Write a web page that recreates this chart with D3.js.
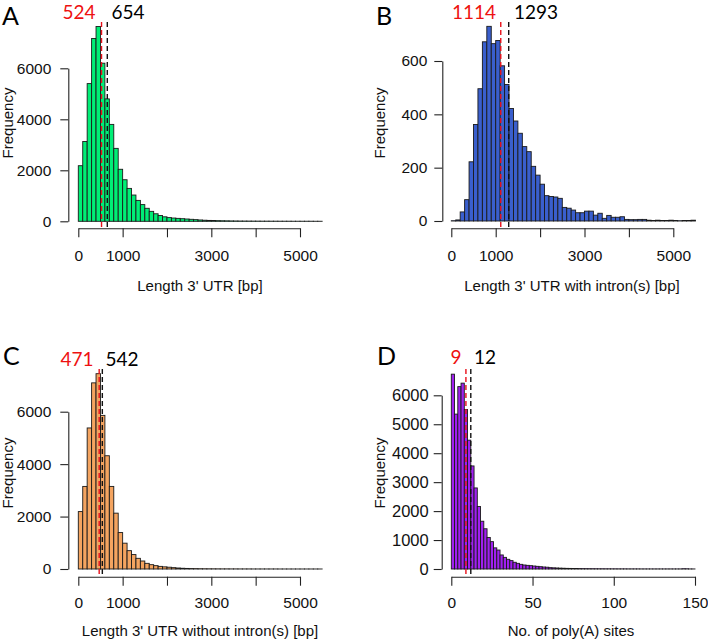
<!DOCTYPE html>
<html lang="en">
<head>
<meta charset="UTF-8">
<title>3' UTR length histograms</title>
<script src="https://d3js.org/d3.v7.min.js"></script>
<style>
  body { margin: 0; background: #fff; }
  svg { display: block; }
  .tick text { font-family: "Liberation Sans", Arial, sans-serif; font-size: 15.5px; fill: #111; }
  .tick line, .domain { stroke: #222; stroke-width: 1.1; }
  .title { font-family: "Liberation Sans", Arial, sans-serif; font-size: 15px; fill: #111; }
  .stat, .letter { font-family: Lato, "Open Sans", sans-serif; }
</style>
</head>
<body>
<script>
    // histogram counts (bins of 100 bp for A-C, 2 sites for D)
    const countsAll = [2180, 3130, 5400, 7170, 7640, 6200, 4800, 3800, 2860, 2040,
        1630, 1290, 1030, 820, 655, 510, 390, 295, 228, 176,
        145, 128, 115, 102, 90, 78, 65, 52, 42, 35,
        30, 25, 21, 18, 15, 13, 11, 10, 9, 8,
        7, 6, 6, 5, 5, 4, 4, 4, 3, 3,
        3, 3, 3, 2, 2]
    const countsWithIntron = [1, 4, 34, 80, 222, 362, 496, 672, 730, 665,
        677, 582, 512, 422, 375, 329, 279, 260, 205, 172,
        138, 95, 92, 90, 85, 51, 48, 41, 31, 31,
        37, 37, 22, 29, 10, 21, 14, 14, 16, 6,
        5, 5, 6, 6, 3, 2, 3, 2, 2, 3,
        2, 1, 2, 2, 3]
    const countsNoIntron = [2190, 3150, 5380, 7100, 7450, 5860, 4320, 3150, 2130, 1390,
        985, 700, 550, 407, 305, 216, 165, 128, 100, 82,
        68, 51, 38, 28, 22, 17, 14, 11, 9, 8,
        7, 6, 5, 5, 4, 4, 3, 3, 3, 2,
        2, 2, 2, 2, 2, 1, 1, 1, 1, 1,
        1, 1, 1, 1, 1]
    const countsPolyA = [6730, 5350, 6300, 6420, 5510, 4450, 3560, 2800, 2160, 1650,
        1390, 1090, 945, 730, 655, 485, 402, 335, 290, 232,
        195, 161, 138, 126, 115, 103, 92, 80, 69, 62,
        46, 40, 35, 30, 26, 22, 20, 18, 16, 15,
        13, 12, 11, 10, 9, 8, 8, 7, 7, 6,
        6, 5, 5, 5, 4, 4, 4, 4, 3, 3,
        3, 3, 3, 3, 3, 3, 3, 3, 3, 3,
        3, 10, 8, 3, 2]

    const binWidths = [100, 100, 100, 2]
    const medians = [524, 1114, 471, 9]
    const means = [654, 1293, 542, 12]
    const letters = ["A", "B", "C", "D"]
    const fills = ["#00EE76", "#3A5FCD", "#F4A460", "#A020F0"]
    const xTitles = ["Length 3' UTR [bp]", "Length 3' UTR with intron(s) [bp]",
        "Length 3' UTR without intron(s) [bp]", "No. of poly(A) sites"]
    const lengthTicks = [0, 1000, 2000, 3000, 4000, 5000]
    const lengthLabels = [0, 1000, 3000, 5000]
    const siteTicks = [0, 50, 100, 150]
    const yTicksA = [0, 2000, 4000, 6000]
    const yTicksB = [0, 200, 400, 600]
    const yTicksD = [0, 1000, 2000, 3000, 4000, 5000, 6000]

    const svg = d3.select("body").append("svg")
        .attr("width", 708)
        .attr("height", 643)

    // pixel frame of each panel: x0/x1 = first/last x tick, y0/y1 = first/last y tick
    const frames = [
        {x0: 78.3, x1: 300, y0: 221.3, y1: 68.3, yAxisX: 68.3, xAxisY: 228.3, xPad: 13, yPad: 9, lineTop: 22, statY: 19, letterX: 2, letterY: 25, labelX: [79, 128], titleX: 200, titleY: 291, yTitleX: 12.5, yTitleY: 123},
        {x0: 451.3, x1: 673.3, y0: 221, y1: 61, yAxisX: 442.3, xAxisY: 228.3, xPad: 13, yPad: 7, lineTop: 22, statY: 19, letterX: 376, letterY: 25, labelX: [474, 536], titleX: 572, titleY: 291, yTitleX: 384.5, yTitleY: 123},
        {x0: 78.3, x1: 300, y0: 569, y1: 411.7, yAxisX: 68.3, xAxisY: 576.7, xPad: 11, yPad: 9, lineTop: 369, statY: 366, letterX: 3, letterY: 365, labelX: [77, 122], titleX: 200, titleY: 636, yTitleX: 12.5, yTitleY: 473},
        {x0: 451.3, x1: 695, y0: 569, y1: 395.3, yAxisX: 441.7, xAxisY: 576.7, xPad: 11, yPad: 5, lineTop: 369, statY: 364, letterX: 377, letterY: 365, labelX: [456, 485], titleX: 571, titleY: 636, yTitleX: 384.5, yTitleY: 473}
    ]

    const allCounts = [countsAll, countsWithIntron, countsNoIntron, countsPolyA]
    const xTickSets = [lengthTicks, lengthTicks, lengthTicks, siteTicks]
    const xLabelSets = [lengthLabels, lengthLabels, lengthLabels, siteTicks]
    const yTickSets = [yTicksA, yTicksB, yTicksA, yTicksD]

    allCounts.forEach((counts, i) => drawPanel(i, counts))

    function drawPanel(i, counts) {
        const f = frames[i]
        const xt = xTickSets[i]
        const yt = yTickSets[i]
        const bw = binWidths[i]

        const x = d3.scaleLinear()
            .domain([xt[0], xt[xt.length - 1]])
            .range([f.x0, f.x1])
        const y = d3.scaleLinear()
            .domain([yt[0], yt[yt.length - 1]])
            .range([f.y0, f.y1])

        const g = svg.append("g")

        // bars
        g.selectAll("rect")
            .data(counts)
            .enter()
            .append("rect")
            .attr("x", (d, k) => x(k * bw))
            .attr("y", d => y(d))
            .attr("width", (d, k) => x((k + 1) * bw) - x(k * bw))
            .attr("height", d => y(0) - y(d))
            .attr("fill", fills[i])
            .attr("stroke", "#1a1a1a")
            .attr("stroke-width", 0.9)

        // y axis
        const yAxis = g.append("g")
            .attr("transform", `translate(${f.yAxisX},0)`)
            .call(d3.axisLeft(y).tickValues(yt).tickSize(8).tickSizeOuter(0).tickPadding(f.yPad).tickFormat(d3.format("d")))
        if (i === 3) yAxis.selectAll(".tick text").style("font-size", "16.5px")

        // x axis
        const labelSet = xLabelSets[i]
        g.append("g")
            .attr("transform", `translate(0,${f.xAxisY})`)
            .call(d3.axisBottom(x).tickValues(xt).tickSize(9).tickSizeOuter(0).tickPadding(f.xPad)
                .tickFormat(d => labelSet.includes(d) ? d : ""))

        // median (red) and mean (black) lines
        ;[[medians[i], "#e8101a"], [means[i], "#111"]].forEach(([v, c]) => {
            g.append("line")
                .attr("x1", x(v)).attr("x2", x(v))
                .attr("y1", f.lineTop).attr("y2", f.xAxisY)
                .attr("stroke", c)
                .attr("stroke-width", 1.4)
                .attr("stroke-dasharray", "5,3")
        })

        g.append("text")
            .attr("class", "stat")
            .attr("x", f.labelX[0]).attr("y", f.statY)
            .attr("text-anchor", "middle")
            .attr("font-size", 19)
            .attr("fill", "#ee1111")
            .text(medians[i])
        g.append("text")
            .attr("class", "stat")
            .attr("x", f.labelX[1]).attr("y", f.statY)
            .attr("text-anchor", "middle")
            .attr("font-size", 19)
            .attr("fill", "#000")
            .text(means[i])

        g.append("text")
            .attr("class", "letter")
            .attr("x", f.letterX).attr("y", f.letterY)
            .attr("font-size", 25)
            .attr("fill", "#000")
            .text(letters[i])

        g.append("text")
            .attr("class", "title")
            .attr("x", f.titleX).attr("y", f.titleY)
            .attr("text-anchor", "middle")
            .text(xTitles[i])

        g.append("text")
            .attr("class", "title")
            .attr("transform", `translate(${f.yTitleX},${f.yTitleY}) rotate(-90)`)
            .attr("text-anchor", "middle")
            .text("Frequency")
    }
</script>
</body>
</html>
